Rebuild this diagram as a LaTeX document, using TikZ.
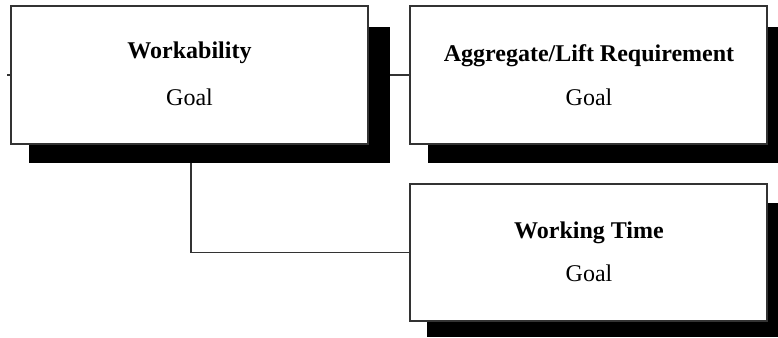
\documentclass[tikz,border=0pt]{standalone}
\usepackage{fontspec}
\setmainfont{Liberation Serif}
\usetikzlibrary{backgrounds}
\begin{document}
\begin{tikzpicture}[x=1pt,y=-1pt,
  goalbox/.style={draw=black!80,line width=1.3pt,fill=white,inner sep=0pt},
  shadowbox/.style={fill=black,draw=none},
  wire/.style={draw=black!80,line width=1.2pt},
  ttl/.style={anchor=base,inner sep=0pt,font=\fontsize{24}{28}\selectfont\bfseries},
  sub/.style={anchor=base,inner sep=0pt,font=\fontsize{24}{28}\selectfont}]
\useasboundingbox (0,0) rectangle (778,337);
% shadows
\fill[shadowbox] (29,27) rectangle (390,163);
\fill[shadowbox] (428,27) rectangle (778,163);
\fill[shadowbox] (427,203) rectangle (778,337);
% boxes
\node[goalbox,minimum width=357pt,minimum height=138pt] (b1) at (189.5,75) {};
\node[goalbox,minimum width=357pt,minimum height=138pt] (b2) at (588.5,75) {};
\node[goalbox,minimum width=357pt,minimum height=137pt] (b3) at (588.5,252.5) {};
% texts
\node[ttl] (t1) at (189.5,59) {Workability};
\node[sub] (g1) at (189.5,105) {Goal};
\node[ttl] (t2) at (589,61) {Aggregate/Lift Requirement};
\node[sub] (g2) at (589,105) {Goal};
\node[ttl] (t3) at (589,238) {Working Time};
\node[sub] (g3) at (589,281) {Goal};
% connectors
\coordinate (stub) at (7,75);
\begin{scope}[on background layer]
\fill[white] (0,0) rectangle (778,337);
\draw[wire] (stub) -- (b1.west);
\draw[wire] (b1.east) -- (b2.west);
\draw[wire] ([xshift=1.5pt]b1.south) |- (b3.west);
\end{scope}
\end{tikzpicture}
\end{document}
